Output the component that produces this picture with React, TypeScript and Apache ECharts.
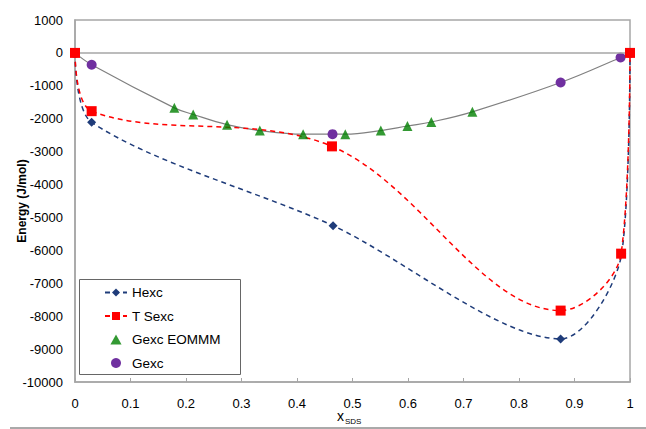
import React, { useEffect, useRef } from "react";
import * as echarts from "echarts";

const hexcX = [0, 0.03, 0.465, 0.875, 0.985, 1];
const hexcY = [0, -2110, -5250, -8690, -6100, 0];
const tsexcX = [0, 0.03, 0.463, 0.875, 0.984, 1];
const tsexcY = [0, -1770, -2840, -7830, -6100, 0];
const eommmX = [0.179, 0.213, 0.274, 0.333, 0.411, 0.487, 0.551, 0.599, 0.642, 0.716];
const eommmY = [-1670, -1870, -2180, -2360, -2470, -2470, -2360, -2220, -2100, -1790];
const gexcX = [0, 0.03, 0.464, 0.875, 0.983, 1];
const gexcY = [0, -360, -2470, -900, -140, 0];
const xTicks = [0, 0.1, 0.2, 0.3, 0.4, 0.5, 0.6, 0.7, 0.8, 0.9, 1];

const FONT = "Arial, 'Liberation Sans', sans-serif";

function pairs(xs: number[], ys: number[]) {
  return xs.map((x, i) => [x, ys[i]]);
}

export default function App() {
  const ref = useRef<HTMLDivElement>(null);
  useEffect(() => {
    if (!ref.current) return;
    const chart = echarts.init(ref.current, null, { renderer: "svg" });
    const grayCurve = pairs(gexcX, gexcY)
      .concat(pairs(eommmX, eommmY))
      .sort((a, b) => a[0] - b[0]);
    chart.setOption({
      animation: false,
      backgroundColor: "#ffffff",
      grid: {
        left: 75,
        right: 16,
        top: 20,
        bottom: 47,
        show: true,
        borderColor: "#A6A6A6",
        borderWidth: 1.5,
        containLabel: false,
        outerBoundsMode: "none",
      },
      legend: {
        orient: "vertical",
        left: 99,
        top: 280,
        itemGap: 8.5,
        itemWidth: 22,
        itemHeight: 10,
        symbolKeepAspect: true,
        textStyle: { fontFamily: FONT, fontSize: 13.5, color: "#000", lineHeight: 15 },
        data: [
          { name: "Hexc" },
          { name: "T Sexc" },
          { name: "Gexc EOMMM", icon: "path://M5,0 L10,9 L0,9 Z" },
          { name: "Gexc", icon: "circle" },
        ],
      },
      xAxis: {
        type: "value",
        min: 0,
        max: 1,
        interval: 0.1,
        axisLine: { onZero: false, lineStyle: { color: "#A6A6A6", width: 1.5 } },
        axisTick: { show: true, inside: true, length: 4, lineStyle: { color: "#A6A6A6" } },
        axisLabel: {
          margin: 15,
          fontFamily: FONT,
          fontSize: 13,
          color: "#000",
          formatter: (v: number) => {
            const t = xTicks.find((x) => Math.abs(x - v) < 1e-6);
            return t === undefined ? "" : String(t);
          },
        },
        splitLine: { show: false },
      },
      yAxis: {
        type: "value",
        min: -10000,
        max: 1000,
        interval: 1000,
        name: "Energy (J/mol)",
        nameLocation: "middle",
        nameGap: 47,
        nameMoveOverlap: false,
        nameTextStyle: { fontFamily: FONT, fontSize: 12, fontWeight: "bold", color: "#000" },
        axisLine: { show: true, lineStyle: { color: "#A6A6A6", width: 1.5 } },
        axisTick: { show: false },
        axisLabel: {
          margin: 12,
          fontFamily: FONT,
          fontSize: 13,
          color: "#000",
          formatter: (v: number) => String(v),
        },
        splitLine: { show: false },
      },
      series: [
        {
          name: "GexcCurve",
          type: "line",
          data: grayCurve,
          smooth: 0.4,
          showSymbol: false,
          symbol: "none",
          lineStyle: { color: "#808080", width: 1.2, type: "solid" },
          z: 2,
          silent: true,
          markLine: {
            silent: true,
            symbol: "none",
            label: { show: false },
            lineStyle: { color: "#A6A6A6", width: 1.5, type: "solid" },
            data: [{ yAxis: 0 }],
          },
        },
        {
          name: "Gexc",
          type: "line",
          data: pairs(gexcX, gexcY),
          symbol: "circle",
          symbolSize: 10,
          itemStyle: { color: "#7030A0" },
          lineStyle: { width: 0, opacity: 0 },
          z: 3,
        },
        {
          name: "Hexc",
          type: "line",
          data: pairs(hexcX, hexcY),
          smooth: 0.3,
          symbol: "diamond",
          symbolSize: 9,
          itemStyle: { color: "#1F3C7A" },
          lineStyle: { color: "#1F3C7A", width: 1.5, type: [5, 4] },
          z: 4,
        },
        {
          name: "T Sexc",
          type: "line",
          data: pairs(tsexcX, tsexcY),
          smooth: 0.35,
          symbol: "rect",
          symbolSize: 10,
          itemStyle: { color: "#FF0000" },
          lineStyle: { color: "#FF0000", width: 1.5, type: [5, 4] },
          z: 5,
        },
        {
          name: "Gexc EOMMM",
          type: "scatter",
          data: pairs(eommmX, eommmY),
          symbol: "triangle",
          symbolSize: 10,
          itemStyle: { color: "#008000" },
          z: 6,
        },
      ],
      graphic: [
        {
          type: "rect",
          shape: { x: 79.5, y: 279.5, width: 161, height: 95 },
          style: { fill: "none", stroke: "#666", lineWidth: 1 },
          z: 100,
        },
        {
          type: "line",
          shape: { x1: 10, y1: 428, x2: 646, y2: 428 },
          style: { stroke: "#555", lineWidth: 1 },
        },
        {
          type: "text",
          x: 337,
          y: 409,
          style: { text: "x", fontFamily: FONT, fontSize: 14, fill: "#000" },
        },
        {
          type: "text",
          x: 345,
          y: 417,
          style: { text: "SDS", fontFamily: FONT, fontSize: 8, fill: "#000" },
        },
      ],
    });
    return () => chart.dispose();
  }, []);
  return <div ref={ref} style={{ width: 646, height: 429, position: "absolute", left: 0, top: 0 }} />;
}
